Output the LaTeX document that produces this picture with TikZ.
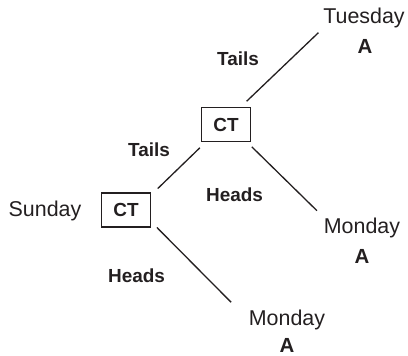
\documentclass[tikz,border=0pt]{standalone}
\usepackage{fontspec}
\setmainfont{Liberation Sans}
\usepackage{xcolor}
\usepackage{tikz}
\definecolor{ink}{RGB}{35,31,32}
\tikzset{
	day/.style={font=\fontsize{21.5}{24}\selectfont, inner sep=0pt, text=ink},
	lab/.style={font=\bfseries\fontsize{19}{22}\selectfont, inner sep=0pt, text=ink},
	letter/.style={font=\bfseries\fontsize{20.5}{23}\selectfont, inner sep=0pt, text=ink},
	ctbox/.style={draw=ink, line width=1.5bp, minimum width=49bp, minimum height=34bp, inner sep=0pt, text=ink, font=\bfseries\fontsize{19}{22}\selectfont},
	branch/.style={draw=ink, line width=1.3bp}
}

\begin{document}
\begin{tikzpicture}[x=1bp, y=-1bp]
		\useasboundingbox (0,0) rectangle (408,356);
		\node[ctbox] (ct1) at (126,210) {CT};
		\node[ctbox] (ct2) at (226,124.5) {CT};
		\node[day] (sun) at (45,210.5) {Sunday};
		\node[day] (tue) at (364,18) {Tuesday};
		\node[letter] (aT) at (365,46.5) {A};
		\node[day] (monR) at (362,227.5) {Monday};
		\node[letter] (aR) at (362,256.5) {A};
		\node[day] (monB) at (287,320) {Monday};
		\node[letter] (aB) at (287,345.5) {A};
		\node[lab] (tailsT) at (238,58.5) {Tails};
		\node[lab] (tailsL) at (149,149.5) {Tails};
		\node[lab] (headsM) at (234.5,194.5) {Heads};
		\node[lab] (headsL) at (136.5,276) {Heads};
		% branches
		\draw[branch, shorten >=8bp, shorten <=9bp] (ct1.31) -- (ct2.221);
		\draw[branch, shorten >=25bp, shorten <=8bp] (ct1.-25) -- (monB.west);
		\draw[branch, shorten >=6.5bp, shorten <=8bp] (ct2.50) -- (tue.south west);
		\draw[branch, shorten >=9.5bp, shorten <=6.5bp] (ct2.-40) -- (monR.north west);
	\end{tikzpicture}
\end{document}
